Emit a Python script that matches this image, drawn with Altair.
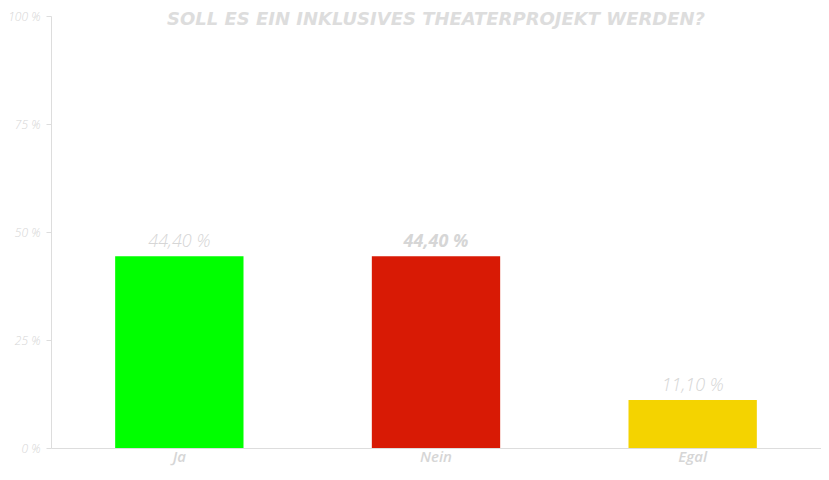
import altair as alt
import pandas as pd

categories = ["Ja", "Nein", "Egal"]
values = [44.4, 44.4, 11.1]
value_labels = ["44,40 %", "44,40 %", "11,10 %"]
colors = ["#00ff00", "#d81a05", "#f4d300"]
label_weights = ["normal", "bold", "normal"]
title_text = "SOLL ES EIN INKLUSIVES THEATERPROJEKT WERDEN?"

df = pd.DataFrame({
    "cat": categories,
    "val": values,
    "lbl": value_labels,
    "col": colors,
    "w": label_weights,
})

FONT = "Open Sans"
GRAY = "#d6d6d6"

x = alt.X("cat:N", sort=categories, title=None,
          scale=alt.Scale(paddingInner=0.5, paddingOuter=0.25),
          axis=alt.Axis(labelAngle=0, ticks=False, labelFont=FONT, labelFontSize=15,
                        labelFontStyle="italic", labelFontWeight=600, labelColor=GRAY,
                        domainColor="#dddddd", labelPadding=1))
y = alt.Y("val:Q", title=None,
          scale=alt.Scale(domain=[0, 100], nice=False),
          axis=alt.Axis(values=[0, 25, 50, 75, 100], labelExpr="datum.value + ' %'",
                        grid=False, labelFont=FONT, labelFontSize=12, labelFontStyle="italic",
                        labelFontWeight=300, labelColor=GRAY, domainColor="#dddddd",
                        tickColor="#dddddd", tickSize=5, labelPadding=6))

bars = alt.Chart(df).mark_bar().encode(
    x=x, y=y, color=alt.Color("col:N", scale=None)
)

texts_normal = alt.Chart(df).transform_filter("datum.w == 'normal'").mark_text(
    dy=-14, font=FONT, fontSize=18, fontStyle="italic", fontWeight=300, color=GRAY
).encode(x=alt.X("cat:N", sort=categories), y="val:Q", text="lbl:N")

texts_bold = alt.Chart(df).transform_filter("datum.w == 'bold'").mark_text(
    dy=-14, font=FONT, fontSize=18, fontStyle="italic", fontWeight="bold", color=GRAY
).encode(x=alt.X("cat:N", sort=categories), y="val:Q", text="lbl:N")

title = alt.Chart(pd.DataFrame({"t": [title_text]})).mark_text(
    font="DejaVu Sans", fontSize=18, fontStyle="italic", fontWeight="bold", color="#dddddd",
    baseline="alphabetic", align="center"
).encode(x=alt.value(385), y=alt.value(9), text="t:N")

chart = alt.layer(bars, texts_normal, texts_bold, title).properties(
    width=770, height=432,
    autosize=alt.AutoSizeParams(type="none"),
    padding={"left": 43, "top": 8, "right": 0, "bottom": 20},
).configure_view(stroke=None)

chart.save("out.html", embed_options={"renderer": "svg", "actions": False})
